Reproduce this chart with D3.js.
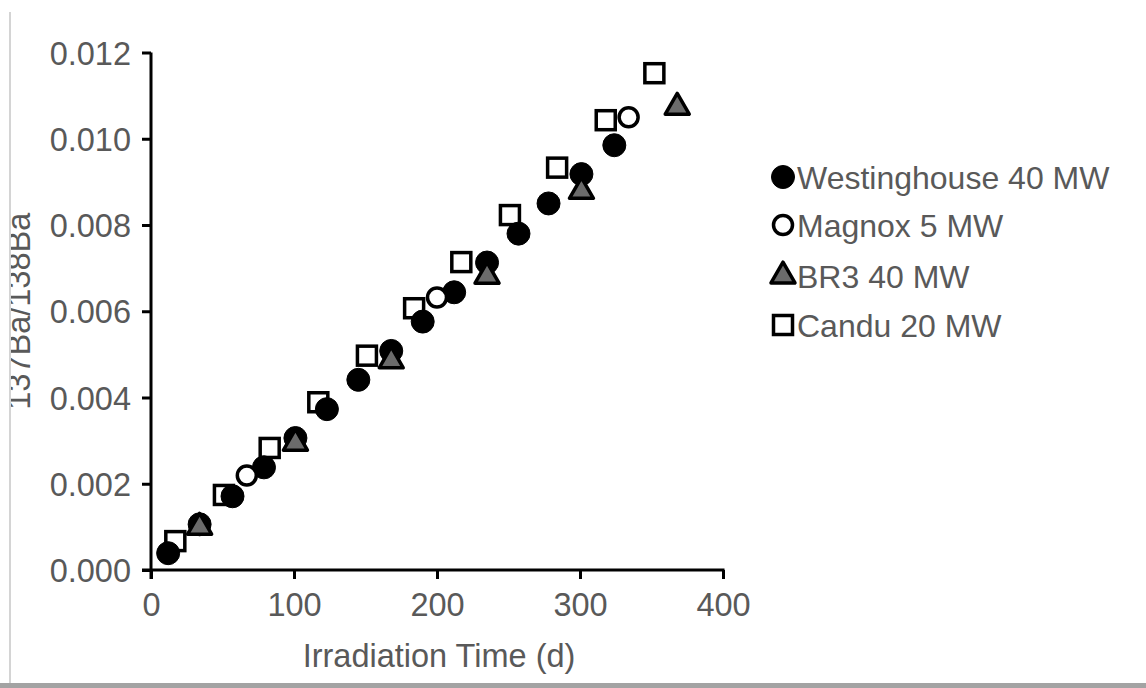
<!DOCTYPE html>
<html>
<head>
<meta charset="utf-8">
<script src="https://cdn.jsdelivr.net/npm/d3@7/dist/d3.min.js"></script>
<style>
  html, body { margin: 0; padding: 0; background: #ffffff; }
  svg { display: block; }
  text { font-family: "Liberation Sans", Arial, sans-serif; }
</style>
</head>
<body>
<svg id="chart" width="1146" height="688"></svg>
<script>
// Irradiation time (days) and 137Ba/138Ba ratio for each reactor model
const westinghouseX = [12, 34, 57, 79, 101, 123, 145, 168, 190, 212, 235, 257, 278, 301, 324];
const westinghouseY = [0.00039, 0.00106, 0.00171, 0.00238, 0.00306, 0.00373, 0.00441, 0.00508, 0.00576, 0.00644, 0.00713, 0.0078, 0.0085, 0.00918, 0.00985];

const magnoxX = [67, 200, 334];
const magnoxY = [0.00219, 0.00632, 0.0105];

const br3X = [34, 101, 168, 235, 301, 368];
const br3Y = [0.00099, 0.00294, 0.00485, 0.00681, 0.00878, 0.01073];

const canduX = [17, 51, 83, 117, 151, 184, 217, 251, 284, 318, 352];
const canduY = [0.00067, 0.00174, 0.00283, 0.00389, 0.00497, 0.00607, 0.00714, 0.00823, 0.00933, 0.01043, 0.01152];

const xTicks = [0, 100, 200, 300, 400];
const yTicks = [0, 0.002, 0.004, 0.006, 0.008, 0.010, 0.012];

const seriesNames = ["Westinghouse 40 MW", "Magnox 5 MW", "BR3 40 MW", "Candu 20 MW"];

const svg = d3.select("#chart");
const W = 1146, H = 688;

svg.append("rect").attr("x", 0).attr("y", 0).attr("width", W).attr("height", H).attr("fill", "#ffffff");

const x = d3.scaleLinear().domain([0, 400]).range([151, 723]);
const y = d3.scaleLinear().domain([0, 0.012]).range([570, 52.5]);

const labelColor = "#595959";

// axes
const xAxis = svg.append("g")
  .attr("transform", `translate(0,${y(0)})`)
  .call(d3.axisBottom(x).tickValues(xTicks).tickSize(9).tickSizeOuter(0).tickFormat(d3.format("d")));
const yAxis = svg.append("g")
  .attr("transform", `translate(${x(0)},0)`)
  .call(d3.axisLeft(y).tickValues(yTicks).tickSize(9).tickSizeOuter(0).tickFormat(d3.format(".3f")));

[xAxis, yAxis].forEach(g => {
  g.select(".domain").attr("stroke", "#000").attr("stroke-width", 3);
  g.selectAll(".tick line").attr("stroke", "#000").attr("stroke-width", 3);
  g.selectAll(".tick text").attr("fill", labelColor).attr("font-size", 32.5)
    .attr("font-family", "'Liberation Sans', Arial, sans-serif");
});
// extend x axis line left so it crosses the y axis
xAxis.select(".domain").attr("d", `M${x(0) - 9},0H${x(400) + 1.5}`);
yAxis.select(".domain").attr("d", `M0,${y(0.012)}V${y(0) + 9}`);
xAxis.selectAll(".tick text").attr("dy", "0.95em").attr("y", 15);
yAxis.selectAll(".tick text").attr("x", -20).attr("dy", "0.36em");

// axis titles
svg.append("text")
  .attr("x", (x(0) + x(400)) / 2 + 2).attr("y", 667)
  .attr("text-anchor", "middle").attr("font-size", 32.5).attr("fill", labelColor)
  .text("Irradiation Time (d)");
svg.append("text")
  .attr("transform", `translate(30,${(y(0) + y(0.012)) / 2}) rotate(-90)`)
  .attr("text-anchor", "middle").attr("font-size", 32.5).attr("fill", labelColor)
  .text("137Ba/138Ba");
// the panel's left edge covers part of the rotated title
svg.append("rect").attr("x", 0).attr("y", 0).attr("width", 10).attr("height", H).attr("fill", "#ffffff");
svg.append("rect").attr("x", 9).attr("y", 12).attr("width", 2).attr("height", H - 12).attr("fill", "#d4d4d4");
svg.append("rect").attr("x", 0).attr("y", H - 5).attr("width", W).attr("height", 5).attr("fill", "#a3a3a3");

// marker drawing helpers
const triPath = s => {
  const h = s * Math.sqrt(3) / 2;
  return `M0,${-h * 2 / 3}L${s / 2},${h / 3}L${-s / 2},${h / 3}Z`;
};
const markers = {
  westinghouse: g => g.append("circle").attr("r", 11.5).attr("fill", "#000").attr("stroke", "#000").attr("stroke-width", 1),
  magnox: g => g.append("circle").attr("r", 9.5).attr("fill", "#fff").attr("stroke", "#000").attr("stroke-width", 3.5),
  br3: g => g.append("path").attr("d", triPath(24)).attr("fill", "#6b6b6b").attr("stroke", "#000").attr("stroke-width", 3.5).attr("stroke-linejoin", "round"),
  candu: g => g.append("rect").attr("x", -9.5).attr("y", -9.5).attr("width", 19).attr("height", 19).attr("fill", "#fff").attr("stroke", "#000").attr("stroke-width", 3.5)
};

function drawSeries(xs, ys, kind) {
  const g = svg.append("g");
  xs.forEach((xv, i) => {
    const m = g.append("g").attr("transform", `translate(${x(xv)},${y(ys[i])})`);
    markers[kind](m);
  });
}

drawSeries(canduX, canduY, "candu");
drawSeries(westinghouseX, westinghouseY, "westinghouse");
drawSeries(magnoxX, magnoxY, "magnox");
drawSeries(br3X, br3Y, "br3");

// legend
const legendKinds = ["westinghouse", "magnox", "br3", "candu"];
const legendY = [177, 225, 276, 325];
legendKinds.forEach((k, i) => {
  const row = svg.append("g").attr("transform", `translate(783,${legendY[i]})`);
  markers[k](row);
  row.append("text").attr("x", 14).attr("y", 11.5).attr("font-size", 32).attr("fill", labelColor)
    .text(seriesNames[i]);
});
</script>
</body>
</html>
